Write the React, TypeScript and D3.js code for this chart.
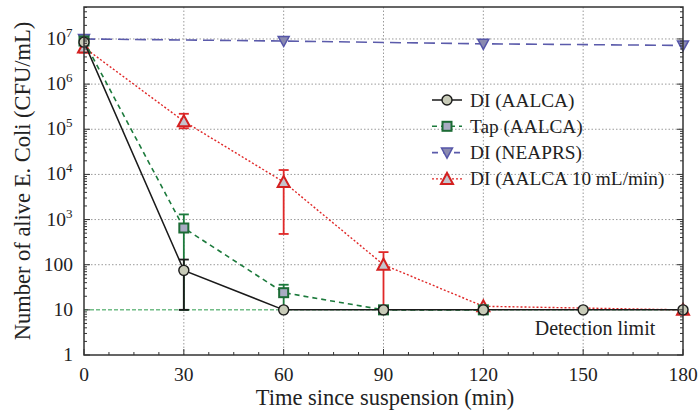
import React from "react";
import * as d3 from "d3";

const diTimes = [0, 30, 60, 90, 120, 150, 180];
const diValues = [8.5e6, 75, 10, 10, 10, 10, 10];
const diErrLow = [null, 10, null, null, null, null, null];
const diErrHigh = [null, 130, null, null, null, null, null];

const tapTimes = [0, 30, 60, 90, 120];
const tapValues = [9e6, 650, 24, 10, 10];
const tapErrLow = [null, 10, 10, null, null];
const tapErrHigh = [null, 1300, 36, null, null];

const neaprsTimes = [0, 60, 120, 180];
const neaprsValues = [1e7, 9e6, 7.8e6, 7.2e6];

const redTimes = [0, 30, 60, 90, 120, 180];
const redValues = [6.5e6, 1.5e5, 6800, 100, 12, 10];
const redErrLow = [5e6, 1.05e5, 480, 10, null, null];
const redErrHigh = [1e7, 2.2e5, 12500, 190, null, null];

const xTicks = [0, 30, 60, 90, 120, 150, 180];
const yTicks = [1, 10, 100, 1e3, 1e4, 1e5, 1e6, 1e7];
const yTickLabels = ["1", "10", "100", "10|3", "10|4", "10|5", "10|6", "10|7"];

const legendLabels = ["DI (AALCA)", "Tap (AALCA)", "DI (NEAPRS)", "DI (AALCA 10 mL/min)"];

const L = 84, R = 683, T = 7, B = 355;
const FONT = "Liberation Serif, Times New Roman, DejaVu Serif, serif";

const x = d3.scaleLinear().domain([0, 180]).range([L, R]);
const y = d3.scaleLog().domain([1, Math.pow(10, 7.708)]).range([B, T]);

type Style = { color: string; dash: string; width: number };
const sBlack: Style = { color: "#1a1a1a", dash: "", width: 1.5 };
const sGreen: Style = { color: "#1c7a3c", dash: "5,4", width: 1.6 };
const sBlue: Style = { color: "#5b5bab", dash: "11,6", width: 1.6 };
const sRed: Style = { color: "#e02828", dash: "2,2", width: 1.4 };

function Marker({ kind, cx, cy }: { kind: string; cx: number; cy: number }) {
  if (kind === "circle")
    return <circle cx={cx} cy={cy} r={5} fill="#c8cbb8" stroke="#1a1a1a" strokeWidth={1.4} />;
  if (kind === "square")
    return <rect x={cx - 4.5} y={cy - 4.5} width={9} height={9} fill="#a9abc3" stroke="#1c6b35" strokeWidth={2} />;
  if (kind === "down")
    return (
      <path
        d={`M${cx - 5.5},${cy - 4.5} L${cx + 5.5},${cy - 4.5} L${cx},${cy + 5.5} Z`}
        fill="#8a8ab0"
        stroke="#5555a8"
        strokeWidth={1.5}
      />
    );
  return (
    <path
      d={`M${cx - 6},${cy + 5} L${cx + 6},${cy + 5} L${cx},${cy - 6} Z`}
      fill="#c4c4cc"
      stroke="#d42020"
      strokeWidth={2}
    />
  );
}

function Series({
  times,
  values,
  lo,
  hi,
  style,
  kind,
}: {
  times: number[];
  values: number[];
  lo?: (number | null)[];
  hi?: (number | null)[];
  style: Style;
  kind: string;
}) {
  const line = d3
    .line<number>()
    .x((_, i) => x(times[i]))
    .y((v) => y(v));
  return (
    <g>
      <path d={line(values) || ""} fill="none" stroke={style.color} strokeWidth={style.width} strokeDasharray={style.dash} />
      {lo &&
        hi &&
        times.map((t, i) =>
          lo[i] != null && hi[i] != null ? (
            <g key={"e" + i} stroke={style.color} strokeWidth={1.8}>
              <line x1={x(t)} x2={x(t)} y1={y(lo[i] as number)} y2={y(hi[i] as number)} />
              <line x1={x(t) - 5} x2={x(t) + 5} y1={y(lo[i] as number)} y2={y(lo[i] as number)} />
              <line x1={x(t) - 5} x2={x(t) + 5} y1={y(hi[i] as number)} y2={y(hi[i] as number)} />
            </g>
          ) : null
        )}
      {times.map((t, i) => (
        <Marker key={i} kind={kind} cx={x(t)} cy={y(values[i])} />
      ))}
    </g>
  );
}

export default function App() {
  const minorY: number[] = [];
  for (let k = 0; k < 8; k++) for (let m = 2; m <= 9; m++) {
    const v = m * Math.pow(10, k);
    if (v <= y.domain()[1]) minorY.push(v);
  }
  const minorX = d3.range(0, 180.01, 7.5);
  const legendStyles = [sBlack, sGreen, sBlue, sRed];
  const legendKinds = ["circle", "square", "down", "up"];
  return (
    <svg width={699} height={412} style={{ position: "absolute", left: 0, top: 0, background: "#fff", fontFamily: FONT }}>
      {/* grid */}
      <g stroke="#9a9a9a" strokeWidth={1} strokeDasharray="1.5,2">
        {yTicks.slice(2).map((v) => (
          <line key={v} x1={L} x2={R} y1={y(v)} y2={y(v)} />
        ))}
        {xTicks.slice(1, -1).map((t) => (
          <line key={t} x1={x(t)} x2={x(t)} y1={T} y2={B} />
        ))}
      </g>
      {/* detection limit */}
      <line x1={L} x2={R} y1={y(10)} y2={y(10)} stroke="#2a9a4a" strokeWidth={1} strokeDasharray="4,2" />
      <text x={595} y={335} fontSize={20} textAnchor="middle" fill="#222">Detection limit</text>

      <Series times={neaprsTimes} values={neaprsValues} style={sBlue} kind="down" />
      <Series times={redTimes} values={redValues} lo={redErrLow} hi={redErrHigh} style={sRed} kind="up" />
      <Series times={tapTimes} values={tapValues} lo={tapErrLow} hi={tapErrHigh} style={sGreen} kind="square" />
      <Series times={diTimes} values={diValues} lo={diErrLow} hi={diErrHigh} style={sBlack} kind="circle" />

      {/* frame */}
      <rect x={L} y={T} width={R - L} height={B - T} fill="none" stroke="#333" strokeWidth={1.5} />
      {/* ticks */}
      <g stroke="#333" strokeWidth={1}>
        {yTicks.map((v) => (
          <React.Fragment key={v}>
            <line x1={L} x2={L + 6} y1={y(v)} y2={y(v)} />
            <line x1={R} x2={R - 6} y1={y(v)} y2={y(v)} />
          </React.Fragment>
        ))}
        {minorY.map((v) => (
          <React.Fragment key={"m" + v}>
            <line x1={L} x2={L + 3} y1={y(v)} y2={y(v)} />
            <line x1={R} x2={R - 3} y1={y(v)} y2={y(v)} />
          </React.Fragment>
        ))}
        {minorX.map((t) => (
          <line key={"x" + t} x1={x(t)} x2={x(t)} y1={B} y2={B - (t % 30 === 0 ? 6 : 3)} />
        ))}
      </g>
      {/* y tick labels */}
      {yTicks.map((v, i) => {
        const parts = yTickLabels[i].split("|");
        return (
          <text key={v} x={parts.length > 1 ? 66 : 73} y={y(v) + 6} fontSize={19.5} textAnchor="end" fill="#222">
            {parts[0]}
          </text>
        );
      })}
      {yTicks.map((v, i) => {
        const parts = yTickLabels[i].split("|");
        return parts.length > 1 ? (
          <text key={"s" + v} x={66} y={y(v) - 2} fontSize={13} fill="#222">
            {parts[1]}
          </text>
        ) : null;
      })}
      {/* x tick labels */}
      {xTicks.map((t) => (
        <text key={t} x={x(t)} y={381} fontSize={19.5} textAnchor="middle" fill="#222">
          {t}
        </text>
      ))}
      <text x={385} y={405} fontSize={22.5} textAnchor="middle" fill="#222">Time since suspension (min)</text>
      <text transform={`translate(30,${(T + B) / 2}) rotate(-90)`} fontSize={22.5} textAnchor="middle" fill="#222">
        Number of alive E. Coli (CFU/mL)
      </text>
      {/* legend */}
      {legendLabels.map((lab, i) => {
        const ly = 100 + i * 26.3;
        const st = legendStyles[i];
        return (
          <g key={lab}>
            <line x1={432} x2={462} y1={ly} y2={ly} stroke={st.color} strokeWidth={st.width} strokeDasharray={i === 2 ? "6,5" : st.dash} />
            <Marker kind={legendKinds[i]} cx={447} cy={ly} />
            <text x={470} y={ly + 6.5} fontSize={19.3} fill="#222">{lab}</text>
          </g>
        );
      })}
    </svg>
  );
}
